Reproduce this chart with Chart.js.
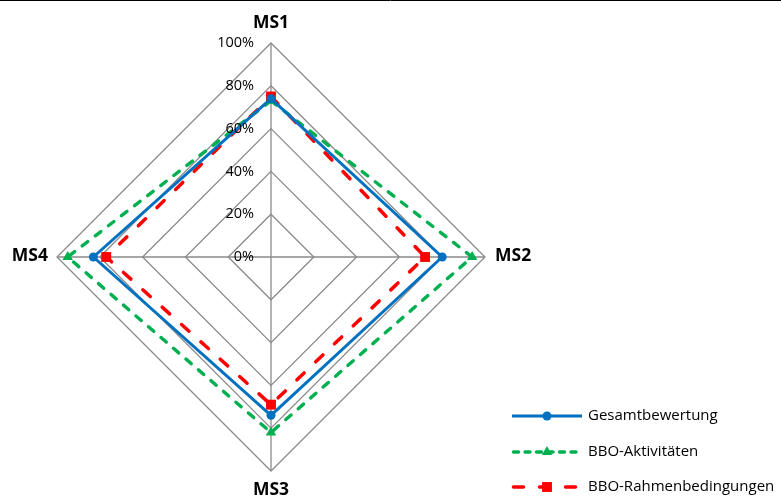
<!DOCTYPE html>
<html>
<head>
<meta charset="utf-8">
<script src="https://cdn.jsdelivr.net/npm/chart.js@4/dist/chart.umd.min.js"></script>
<style>
  html, body { margin: 0; padding: 0; background: #fff; }
  #wrap { width: 781px; height: 497px; }
</style>
</head>
<body>
<div id="wrap"><canvas id="c" width="781" height="497"></canvas></div>
<script>
// Categories (axes of the radar)
const categories = ['MS1', 'MS2', 'MS3', 'MS4'];

// Series values in percent
const gesamtbewertung = [74, 80, 74, 83];
const bboAktivitaeten = [73, 94, 82, 95];
const bboRahmenbedingungen = [75, 72, 69, 77];

// Radial tick labels
const tickValues = [0, 20, 40, 60, 80, 100];
const tickLabels = ['0%', '20%', '40%', '60%', '80%', '100%'];

const FONT = '"Open Sans", "Noto Sans", sans-serif';

const seriesStyle = [
  { color: '#0070C0', width: 3, dash: [], legendDash: [], pointStyle: 'circle', radius: 4.5 },
  { color: '#00B050', width: 3.4, dash: [7, 9.5], legendDash: [5, 6.5], pointStyle: 'triangle', radius: 6 },
  { color: '#FF0000', width: 3.5, dash: [10, 16], legendDash: [10, 16], pointStyle: 'rect', radius: 7 }
];

// Draws a marker shape of the given style
function marker(ctx, style, x, y, r, color) {
  ctx.save();
  ctx.fillStyle = color;
  ctx.setLineDash([]);
  ctx.beginPath();
  if (style === 'circle') {
    ctx.arc(x, y, r, 0, Math.PI * 2);
  } else if (style === 'triangle') {
    ctx.moveTo(x, y - r);
    ctx.lineTo(x + r * Math.sin(Math.PI / 3), y + r / 2);
    ctx.lineTo(x - r * Math.sin(Math.PI / 3), y + r / 2);
    ctx.closePath();
  } else {
    const s = r * Math.SQRT1_2;
    ctx.rect(x - s, y - s, 2 * s, 2 * s);
  }
  ctx.fill();
  ctx.restore();
}

const decorations = {
  id: 'decorations',
  afterDraw(chart) {
    const ctx = chart.ctx;
    const scale = chart.scales.r;

    // thin frame line along the top edge
    ctx.save();
    ctx.strokeStyle = '#000';
    ctx.lineWidth = 1;
    ctx.beginPath();
    ctx.moveTo(0, 0.5);
    ctx.lineTo(chart.width, 0.5);
    ctx.stroke();

    // tick labels, right aligned beside the vertical axis
    ctx.font = '14.5px ' + FONT;
    ctx.fillStyle = '#000';
    ctx.textAlign = 'right';
    ctx.textBaseline = 'middle';
    tickValues.forEach((v, i) => {
      const d = scale.getDistanceFromCenterForValue(v);
      ctx.fillText(tickLabels[i], scale.xCenter - 17, scale.yCenter - d);
    });

    // category labels around the radar
    ctx.font = 'bold 17.5px ' + FONT;
    const place = [
      { off: 15, align: 'center', base: 'alphabetic', dy: 0 },
      { off: 10, align: 'left', base: 'middle', dy: -1 },
      { off: 24, align: 'center', base: 'alphabetic', dy: 0 },
      { off: 9, align: 'right', base: 'middle', dy: -1 }
    ];
    categories.forEach((label, i) => {
      const p = scale.getPointPosition(i, scale.drawingArea + place[i].off);
      ctx.textAlign = place[i].align;
      ctx.textBaseline = place[i].base;
      ctx.fillText(label, p.x, p.y + place[i].dy);
    });

    // legend: line sample with marker, then series name
    const lx0 = 512, lx1 = 582, tx = 588;
    const rows = [416, 452, 487];
    ctx.font = '15px ' + FONT;
    ctx.textAlign = 'left';
    ctx.textBaseline = 'middle';
    chart.data.datasets.forEach((ds, i) => {
      const st = seriesStyle[i];
      const y = rows[i];
      ctx.save();
      ctx.strokeStyle = st.color;
      ctx.lineWidth = st.width;
      ctx.lineCap = st.dash.length ? 'round' : 'butt';
      ctx.setLineDash(st.legendDash);
      ctx.beginPath();
      ctx.moveTo(lx0 + (st.dash.length ? 1.5 : 0), y);
      ctx.lineTo(lx1, y);
      ctx.stroke();
      ctx.restore();
      marker(ctx, st.pointStyle, (lx0 + lx1) / 2, y, st.radius, st.color);
      ctx.fillStyle = '#000';
      ctx.fillText(ds.label, tx, y);
    });
    ctx.restore();
  }
};

const names = ['Gesamtbewertung', 'BBO-Aktivitäten', 'BBO-Rahmenbedingungen'];
const values = [gesamtbewertung, bboAktivitaeten, bboRahmenbedingungen];

new Chart(document.getElementById('c'), {
  type: 'radar',
  data: {
    labels: categories,
    datasets: values.map((vals, i) => ({
      label: names[i],
      data: vals,
      borderColor: seriesStyle[i].color,
      backgroundColor: seriesStyle[i].color,
      borderWidth: seriesStyle[i].width,
      borderDash: seriesStyle[i].dash,
      borderCapStyle: seriesStyle[i].dash.length ? 'round' : 'butt',
      borderJoinStyle: 'round',
      fill: false,
      tension: 0,
      pointStyle: seriesStyle[i].pointStyle,
      pointRadius: seriesStyle[i].radius,
      pointBorderWidth: 0,
      pointBackgroundColor: seriesStyle[i].color,
      pointBorderColor: seriesStyle[i].color
    }))
  },
  options: {
    responsive: false,
    animation: false,
    events: [],
    layout: { padding: { left: 57, top: 43, right: 296, bottom: 26 } },
    plugins: { legend: { display: false }, tooltip: { enabled: false } },
    scales: {
      r: {
        min: 0,
        max: 100,
        ticks: { display: false, stepSize: 20 },
        pointLabels: { display: false },
        grid: { color: '#8a8a8a', lineWidth: 1.3 },
        angleLines: { color: '#8a8a8a', lineWidth: 1.3 }
      }
    }
  },
  plugins: [decorations]
});
</script>
</body>
</html>
